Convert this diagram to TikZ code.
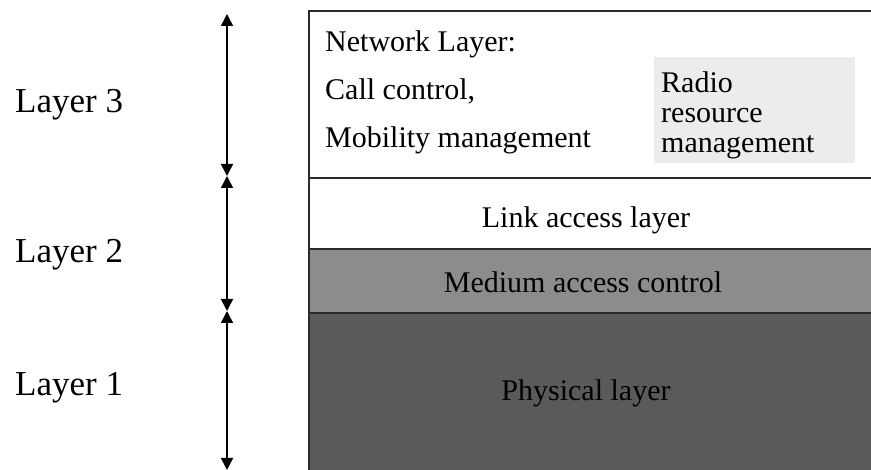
\documentclass[tikz,border=0pt]{standalone}
\usepackage{fontspec}
\setmainfont{Liberation Serif}
\usetikzlibrary{arrows.meta}
\definecolor{macgray}{HTML}{8C8C8C}
\definecolor{phygray}{HTML}{5A5A5A}
\definecolor{rrmgray}{HTML}{ECECEC}
\definecolor{edgegray}{HTML}{2A2A2A}
\begin{document}
\begin{tikzpicture}[x=1pt,y=-1pt,
  layerbox/.style={draw=edgegray, line width=1.6pt, inner sep=0pt, anchor=north west},
  txt/.style={font=\fontsize{30}{36}\selectfont, inner sep=0pt, text=black},
  lbl/.style={font=\fontsize{35}{42}\selectfont, inner sep=0pt, anchor=base west, text=black},
  dimline/.style={line width=1.6pt, {Triangle[length=12pt,width=12pt]}-{Triangle[length=12pt,width=12pt]}}]
\useasboundingbox (0,0) rectangle (871,470);
\begin{scope}
\clip (0,0) rectangle (871,470);
\node[layerbox, fill=white, minimum width=580pt, minimum height=167pt] (net) at (308,10) {};
\node[layerbox, fill=white, minimum width=580pt, minimum height=71pt] (link) at (308,177) {};
\node[layerbox, fill=macgray, minimum width=580pt, minimum height=64pt] (mac) at (308,248) {};
\node[layerbox, fill=phygray, minimum width=580pt, minimum height=170pt] (phy) at (308,312) {};
\end{scope}
\node[fill=rrmgray, inner sep=0pt, minimum width=201pt, minimum height=106pt, anchor=north west] (rrm) at (654,57) {};
% network layer texts
\node[txt, anchor=base west] (t1) at (325,52) {Network Layer:};
\node[txt, anchor=base west] (t2) at (325,100) {Call control,};
\node[txt, anchor=base west] (t3) at (325,148) {Mobility management};
\node[txt, anchor=base west] (r1) at (661,93) {Radio};
\node[txt, anchor=base west] (r2) at (661,123) {resource};
\node[txt, anchor=base west] (r3) at (661,153) {management};
\node[txt, anchor=base] (linktxt) at (586,228) {Link access layer};
\node[txt, anchor=base] (mactxt) at (583,293) {Medium access control};
\node[txt, anchor=base] (phytxt) at (586,401) {Physical layer};
% layer labels
\node[lbl] (l3) at (15,113) {Layer 3};
\node[lbl] (l2) at (15,263) {Layer 2};
\node[lbl] (l1) at (15,396) {Layer 1};
% dimension arrows
\coordinate (a0) at (227,14);
\coordinate (a1) at (227,176);
\coordinate (a2) at (227,311);
\coordinate (a3) at (227,470);
\draw[dimline] (a0) -- (a1);
\draw[dimline] (a1) -- (a2);
\draw[dimline] (a2) -- (a3);
\end{tikzpicture}
\end{document}
